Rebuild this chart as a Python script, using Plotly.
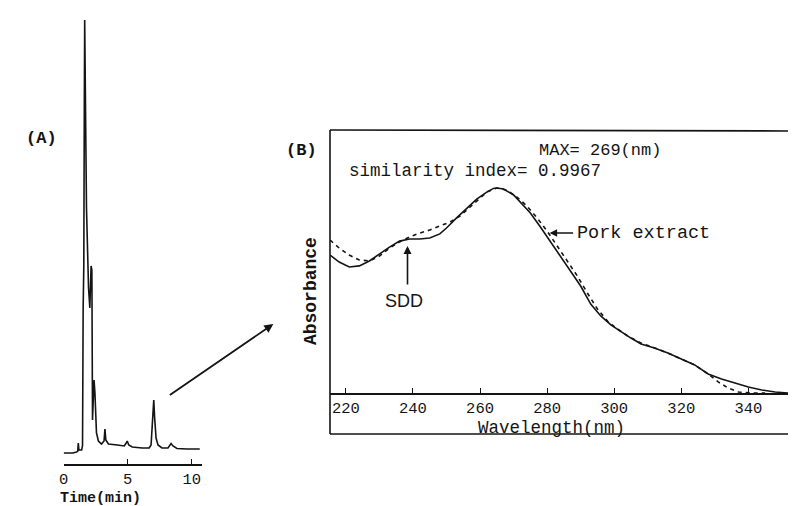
import plotly.graph_objects as go

W, H = 796, 506

# ---- Panel A: chromatogram (time in min, signal in arbitrary units) ----
time_min = [0.00, 0.70, 1.01, 1.10, 1.14, 1.19, 1.40, 1.47, 1.52, 1.55, 1.57, 1.61, 1.64,
            1.69, 1.78, 1.94, 2.04, 2.14, 2.20, 2.25, 2.37, 2.44, 2.56, 2.71, 2.95, 3.15,
            3.22, 3.29, 3.49, 4.19, 4.73, 4.88, 4.96, 5.08, 5.35, 6.12, 6.67, 6.82, 6.94,
            7.03, 7.10, 7.21, 7.36, 7.67, 8.14, 8.29, 8.38, 8.53, 8.84, 9.61, 10.62]
signal = [0, 0, 1, 2, 10, 3, 3, 7, 145, 180, 187, 345, 433,
          365, 245, 165, 145, 187, 183, 33, 73, 60, 20, 12, 9, 12,
          24, 13, 9, 8, 7, 10, 12, 8, 6, 5, 5, 8, 35,
          53, 35, 15, 8, 5, 5, 8.5, 9.5, 7, 4.5, 4, 4]
time_ticks = [0, 5, 10]

# ---- Panel B: UV spectra (wavelength nm, relative absorbance) ----
wl_sdd = [215.3, 218, 221, 224, 227, 230, 233, 236, 239, 242, 245, 248, 250, 253, 256,
          259, 262, 264, 265, 267, 270, 272, 275, 278, 281, 284, 287, 290, 293, 296,
          299, 302, 305, 308, 312, 316, 320, 324, 328, 332, 336, 340, 344, 348, 352, 356.6]
abs_sdd = [67.3, 63.9, 61.5, 62.0, 64.4, 67.8, 71.2, 74.1, 75.1, 75.1, 75.6, 77.6, 80.5,
           85.4, 90.2, 94.6, 98.0, 99.8, 100, 99.5, 96.6, 93.2, 87.8, 81.0, 73.7, 66.8,
           59.5, 52.2, 43.4, 37.6, 33.2, 29.8, 26.8, 23.9, 22.0, 19.5, 16.6, 13.7, 9.3,
           6.8, 4.9, 2.9, 1.5, 0.5, 0, 0]
wl_pork = [215.3, 218, 221, 224, 227, 230, 233, 236, 239, 242, 245, 248, 251, 254, 257,
           260, 262, 265, 268, 271, 274, 277, 280, 283, 286, 289, 292, 295, 298, 301,
           304, 308, 312, 316, 320, 324, 328, 331, 334, 337, 341, 345]
abs_pork = [74.6, 70.7, 67.3, 64.9, 64.4, 66.8, 70.7, 73.7, 76.1, 78.0, 79.5, 81.5, 83.4,
            86.3, 90.7, 95.1, 98.0, 100, 99.0, 95.6, 91.2, 85.4, 79.0, 71.7, 64.4, 57.1,
            48.8, 41.0, 35.1, 31.2, 27.8, 24.4, 22.0, 19.5, 16.6, 13.7, 9.3, 5.4, 2.4,
            0.5, 0, 0]
wl_ticks = [220, 240, 260, 280, 300, 320, 340]

INK = "#141414"
MONO = "Liberation Mono"


def px(x):
    return x / W


def py(y):
    return 1 - y / H


fig = go.Figure()
fig.add_trace(go.Scatter(x=time_min, y=signal, mode="lines",
                         line=dict(color=INK, width=1.6), xaxis="x", yaxis="y"))
fig.add_trace(go.Scatter(x=wl_sdd, y=abs_sdd, mode="lines",
                         line=dict(color=INK, width=1.6), xaxis="x2", yaxis="y2"))
fig.add_trace(go.Scatter(x=wl_pork, y=abs_pork, mode="lines",
                         line=dict(color=INK, width=1.6, dash="4px,4px"),
                         xaxis="x2", yaxis="y2"))

axis_common = dict(showgrid=False, zeroline=False, showline=True, linecolor=INK,
                   linewidth=1.5, ticks="inside", ticklen=5, tickcolor=INK, tickwidth=1.3,
                   tickfont=dict(family=MONO, size=15.5, color=INK))

fig.update_layout(
    width=W, height=H, margin=dict(l=0, r=0, t=0, b=0),
    paper_bgcolor="white", plot_bgcolor="white", showlegend=False,
    xaxis=dict(domain=[px(51), px(190)], range=[0, 10.78], tickvals=time_ticks,
               anchor="y", **axis_common),
    yaxis=dict(domain=[py(456), py(5)], range=[-11, 440], visible=False),
    xaxis2=dict(domain=[px(319), 1.0], range=[215.26, 356.59], tickvals=wl_ticks,
                anchor="y2", **axis_common),
    yaxis2=dict(domain=[py(385), py(122)], range=[0, 128.3], visible=False),
)

# frame of panel B
for x0, y0, x1, y1 in [(319, 122, 800, 123), (319, 122, 319, 426), (319, 426, 800, 426)]:
    fig.add_shape(type="line", xref="paper", yref="paper", x0=px(x0), y0=py(y0),
                  x1=px(x1), y1=py(y1), line=dict(color=INK, width=1.6))


def text(t, x, y, size=17, anchor="center", bold=False, family=MONO, angle=0):
    fig.add_annotation(text=f"<b>{t}</b>" if bold else t, x=px(x), y=py(y),
                       xref="paper", yref="paper", showarrow=False, xanchor=anchor,
                       yanchor="middle", textangle=angle, borderpad=0,
                       font=dict(family=family, size=size, color=INK))


text("(A)", 29, 130, size=17, bold=True)
text("Time(min)", 88, 490, size=15, bold=True)
text("(B)", 290, 143, size=17, bold=True)
text("MAX= 269(nm)", 528, 143, size=17, anchor="left")
text("similarity index= 0.9967", 337, 163, size=17.5, anchor="left")
text("Pork extract", 567, 225, size=18.5, anchor="left")
text("SDD", 393, 293, size=18, family="Liberation Sans")
text("Wavelength(nm)", 542, 420, size=17.5)
text("Absorbance", 300, 283, size=18, bold=True, angle=-90)

arrow = dict(xref="paper", yref="paper", text="", showarrow=True, arrowhead=2,
             arrowsize=1, arrowcolor=INK, axref="pixel", ayref="pixel")
fig.add_annotation(x=px(262), y=py(316), ax=-105, ay=72, arrowwidth=1.8, **arrow)
fig.add_annotation(x=px(397), y=py(238), ax=0, ay=40, arrowwidth=1.6, **arrow)
fig.add_annotation(x=px(540), y=py(225), ax=25, ay=0, arrowwidth=1.5, **arrow)

fig.write_html("out.html")
